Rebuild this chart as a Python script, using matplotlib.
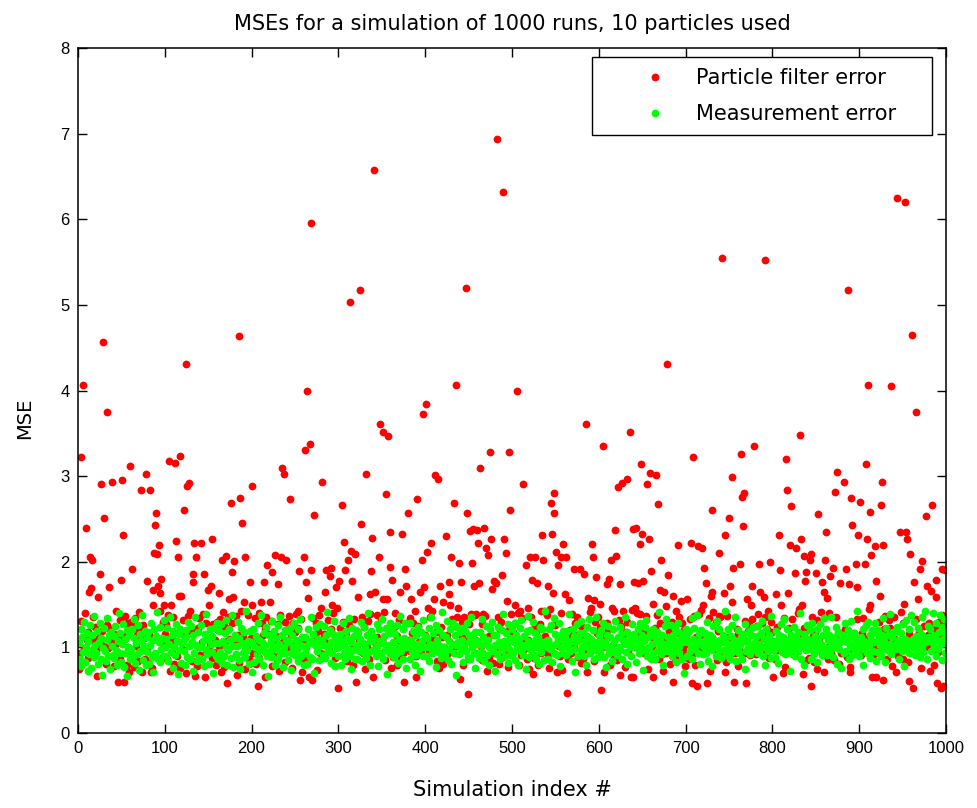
import numpy as np
import matplotlib
matplotlib.use("Agg")
import matplotlib.pyplot as plt

plt.rcParams["font.family"] = ["DejaVu Sans"]

# particle filter MSE, band values for runs 1..1000
pf_band = [
    1.12,0.94,1.31,1.05,0.83,1.22,0.98,1.40,0.76,1.09,1.18,0.88,1.27,1.02,0.69,1.15,1.36,0.91,1.07,1.24,
    0.97,1.33,0.85,1.11,1.29,0.72,1.04,1.19,0.93,1.38,1.01,0.81,1.26,1.14,0.99,0.67,1.21,1.08,1.35,0.89,
    1.16,0.78,1.03,1.42,0.95,1.25,1.10,0.86,1.32,0.74,1.20,1.06,0.92,1.37,1.13,0.80,1.28,1.00,0.71,1.17,
    1.30,1.08,0.90,1.23,0.77,1.34,1.02,1.15,0.84,1.41,0.96,1.19,1.05,0.68,1.26,1.11,0.87,1.39,0.99,1.21,
    0.82,1.14,1.36,0.93,1.07,1.28,0.75,1.18,1.01,1.33,0.88,1.24,0.97,1.12,1.43,0.79,1.06,1.30,0.94,1.16,
    1.04,1.27,0.86,1.38,1.13,0.73,1.22,0.95,1.09,1.35,0.81,1.17,1.29,0.90,1.03,1.40,0.76,1.20,1.10,0.98,
    1.32,0.89,1.15,1.01,0.70,1.25,1.37,0.92,1.08,1.19,0.84,1.31,1.05,0.96,1.42,1.12,0.78,1.23,1.00,1.34,
    0.91,1.18,1.06,1.39,0.83,1.14,0.97,1.28,1.11,0.74,1.21,1.03,1.36,0.88,1.16,1.27,0.95,1.09,0.80,1.30,
    1.20,1.02,0.87,1.33,1.13,0.99,1.41,0.77,1.24,1.07,0.93,1.18,1.35,0.85,1.10,0.72,1.29,1.04,1.22,0.94,
    1.08,1.37,0.96,1.15,0.82,1.26,1.01,1.43,0.89,1.12,1.32,0.75,1.19,1.05,0.98,1.38,0.86,1.23,1.11,0.79,
    1.25,0.93,1.10,1.34,0.81,1.02,1.19,0.88,1.40,1.07,0.70,1.28,1.14,0.97,1.22,0.84,1.36,1.01,1.16,0.90,
    1.03,1.31,0.78,1.20,1.09,0.95,1.42,1.13,0.86,1.27,1.00,0.73,1.17,1.35,0.92,1.06,1.24,0.83,1.30,1.11,
    0.99,1.21,1.37,0.87,1.15,1.04,0.76,1.29,0.94,1.18,1.39,1.08,0.82,1.23,1.12,0.96,1.33,0.71,1.05,1.26,
    1.17,0.85,1.06,1.30,0.97,1.41,1.11,0.79,1.22,1.02,1.34,0.90,1.14,1.28,0.74,1.09,1.19,1.38,0.93,1.01,
    1.36,1.10,0.92,1.16,1.25,0.83,1.05,1.32,1.00,0.77,1.21,1.13,0.95,1.40,1.07,0.88,1.27,1.03,1.18,0.80,
    0.95,1.23,1.12,0.72,1.30,1.06,0.91,1.37,1.15,0.84,1.02,1.26,1.42,0.98,1.11,1.20,0.79,1.33,0.89,1.08,
    1.14,0.98,1.29,1.07,0.86,1.19,1.35,0.93,1.04,1.24,0.75,1.16,1.01,1.31,0.87,1.39,1.10,0.96,1.22,1.05,
    1.27,0.82,1.03,1.38,1.12,0.94,1.20,0.78,1.33,1.09,1.15,0.99,1.41,0.85,1.26,1.05,0.92,1.18,1.36,0.73,
    1.01,1.19,0.89,1.24,1.40,1.06,0.80,1.13,0.97,1.32,1.08,0.87,1.22,1.04,0.93,1.35,1.17,0.76,1.28,1.11,
    1.09,1.34,0.96,0.83,1.17,1.28,1.02,1.43,0.90,1.14,0.79,1.25,1.06,1.37,0.95,1.20,1.00,1.30,0.86,1.15,
    0.88,1.13,1.26,1.05,0.97,1.35,0.74,1.21,1.10,0.92,1.31,1.03,1.18,0.84,1.40,1.08,0.99,1.24,1.12,0.81,
    1.22,1.00,0.87,1.39,1.15,0.93,1.06,1.29,0.78,1.17,1.33,0.95,1.11,1.25,0.89,1.02,1.36,0.72,1.19,1.07,
    1.04,1.30,1.12,0.80,1.23,1.08,0.94,1.41,1.01,0.86,1.27,1.16,0.98,1.34,0.76,1.21,1.09,1.38,0.91,1.14,
    1.33,0.90,1.18,1.02,1.27,0.85,1.11,0.97,1.37,1.05,0.73,1.24,1.13,0.88,1.20,1.42,1.00,0.82,1.29,0.96,
    0.93,1.16,1.05,1.35,0.81,1.22,1.30,1.01,0.89,1.14,1.39,0.96,1.07,1.26,1.19,0.77,1.10,1.32,0.99,1.25,
    1.18,1.07,0.84,1.28,1.12,0.95,1.40,0.79,1.23,1.03,0.91,1.34,1.15,0.98,1.06,1.31,0.87,1.20,1.09,0.75,
    1.06,1.36,0.99,1.14,0.88,1.25,1.03,1.19,1.32,0.80,1.10,1.27,0.94,1.43,1.01,0.85,1.22,1.13,0.97,1.38,
    1.29,0.92,1.21,0.78,1.09,1.37,1.15,0.96,1.05,1.26,0.83,1.18,1.33,1.02,0.90,1.12,1.40,0.74,1.24,1.08,
    0.97,1.23,1.11,1.31,0.86,1.04,1.20,0.93,1.39,1.16,1.01,0.76,1.28,1.07,1.35,0.89,1.14,1.00,1.25,0.82,
    1.15,0.87,1.34,1.02,1.19,0.95,0.71,1.27,1.08,1.41,0.92,1.13,1.22,0.84,1.05,1.30,0.98,1.17,1.36,1.03,
    1.24,1.06,0.91,1.17,1.38,0.82,1.12,1.00,1.29,0.94,1.21,1.35,0.79,1.09,1.26,1.03,0.88,1.42,1.14,0.96,
    0.85,1.20,1.32,0.99,1.07,1.25,0.90,1.36,1.11,0.77,1.18,1.04,1.30,0.95,1.15,1.39,1.01,0.83,1.22,1.10,
    1.11,0.96,1.27,1.40,0.87,1.13,1.02,1.22,0.80,1.33,1.06,0.93,1.19,1.37,0.98,1.24,0.75,1.16,1.05,1.31,
    1.02,1.34,0.89,1.10,1.23,0.97,1.38,1.14,0.86,1.05,1.29,1.18,0.92,0.72,1.21,1.08,1.32,0.94,1.12,1.26,
    1.19,0.81,1.15,1.30,0.99,1.08,1.26,0.88,1.42,1.03,0.95,1.17,1.35,1.09,0.84,1.28,1.00,1.20,0.78,1.13,
    0.94,1.27,1.04,0.86,1.33,1.16,0.92,1.21,1.07,1.37,0.80,1.12,1.01,1.25,1.39,0.97,1.14,0.89,1.31,1.06,
    1.28,1.05,1.20,0.95,0.76,1.14,1.34,1.02,1.23,0.90,1.17,1.41,0.98,1.07,1.30,0.85,1.19,1.11,0.93,1.36,
    1.07,1.32,0.91,1.18,1.26,1.00,0.83,1.37,1.12,0.96,1.24,1.05,0.87,1.29,1.15,1.40,0.94,1.03,1.21,0.78,
    1.16,0.98,1.36,1.06,0.89,1.22,1.11,0.94,1.31,1.02,0.74,1.19,1.27,0.91,1.08,1.14,1.33,0.97,1.25,1.04,
    0.92,1.25,1.08,1.39,1.13,0.84,1.00,1.28,1.17,0.79,1.35,1.06,0.95,1.22,1.42,0.88,1.10,1.30,1.01,1.18,
    1.31,1.01,0.86,1.15,1.24,1.09,0.97,1.38,0.82,1.20,1.12,0.93,1.34,1.04,0.77,1.27,1.16,0.99,1.23,0.90,
    1.05,1.21,1.33,0.92,1.10,0.80,1.26,1.03,1.40,1.14,0.96,1.19,0.87,1.30,1.07,1.23,0.94,1.37,1.12,0.85,
    1.20,0.88,1.07,1.29,0.95,1.36,1.13,0.83,1.18,1.01,1.32,0.75,1.24,1.10,0.98,1.41,1.05,0.91,1.16,1.27,
    0.99,1.14,1.25,0.87,1.40,1.03,1.19,0.93,1.08,1.30,0.85,1.22,1.35,1.00,0.79,1.12,1.28,1.06,0.94,1.17,
    1.13,1.35,0.94,1.22,1.06,0.89,1.31,1.15,0.77,1.26,1.09,1.38,0.96,1.17,1.03,0.84,1.21,1.33,1.02,1.10,
    1.26,0.91,1.17,1.03,1.34,1.11,0.85,1.20,1.39,0.97,1.06,1.24,0.81,1.14,1.29,1.00,0.92,1.18,1.43,0.88,
    0.96,1.18,1.30,0.82,1.12,1.27,1.04,0.93,1.21,1.37,1.08,0.86,1.15,1.32,0.99,1.23,1.07,0.78,1.19,1.35,
    1.10,1.24,0.97,1.36,0.90,1.05,1.19,1.41,1.02,0.87,1.28,1.13,0.95,1.22,1.38,0.83,1.16,1.01,1.30,1.07,
    1.23,0.84,1.14,1.00,1.27,1.33,0.92,1.09,1.18,1.04,0.76,1.35,1.12,0.98,1.25,1.07,1.40,0.89,1.15,1.29,
    1.01,1.17,1.28,0.93,1.08,0.80,1.22,1.34,1.05,1.16,0.95,1.30,1.11,0.86,1.20,1.38,0.97,1.26,1.03,1.13,
]

# runs where the particle filter error leaves the band (index, value)
pf_out_idx = [
    0, 3, 5, 8, 12, 13, 14, 15, 21, 22, 24, 25, 28, 29, 33, 35, 38, 45, 49, 50,
    51, 52, 59, 61, 72, 73, 77, 79, 82, 83, 84, 85, 86, 87, 88, 89, 90, 91, 92, 93,
    95, 98, 104, 106, 111, 112, 114, 115, 117, 118, 121, 123, 125, 127, 128, 131, 132, 133, 134, 135,
    141, 144, 145, 149, 150, 152, 154, 162, 164, 165, 170, 171, 173, 175, 177, 178, 179, 182, 185, 186,
    188, 190, 192, 197, 199, 200, 206, 210, 213, 215, 217, 220, 223, 226, 230, 232, 233, 234, 236, 239,
    243, 252, 254, 255, 259, 260, 262, 263, 264, 265, 266, 267, 268, 269, 271, 279, 280, 284, 285, 289,
    291, 292, 296, 298, 299, 300, 303, 305, 307, 310, 312, 314, 315, 318, 319, 322, 324, 325, 331, 336,
    337, 338, 339, 340, 341, 346, 347, 350, 351, 354, 355, 356, 358, 359, 360, 361, 370, 372, 375, 376,
    377, 379, 383, 389, 390, 393, 395, 397, 398, 400, 401, 402, 406, 407, 409, 410, 414, 415, 416, 420,
    423, 426, 427, 428, 429, 432, 434, 437, 438, 439, 440, 444, 446, 447, 448, 451, 452, 453, 454, 455,
    458, 459, 460, 461, 462, 466, 467, 469, 471, 474, 475, 476, 478, 481, 482, 487, 489, 490, 492, 493,
    496, 497, 498, 502, 505, 508, 512, 515, 517, 520, 522, 523, 526, 528, 534, 535, 536, 540, 542, 543,
    544, 545, 546, 547, 548, 550, 551, 552, 555, 558, 560, 561, 563, 565, 571, 577, 582, 584, 587, 590,
    591, 592, 594, 596, 601, 602, 604, 605, 609, 611, 613, 614, 618, 619, 621, 623, 624, 626, 627, 631,
    635, 636, 637, 638, 639, 640, 641, 642, 644, 646, 647, 648, 649, 650, 655, 657, 658, 659, 661, 662,
    665, 667, 669, 671, 674, 676, 678, 679, 684, 685, 690, 694, 701, 705, 707, 708, 712, 713, 717, 718,
    719, 720, 722, 724, 727, 728, 729, 730, 737, 738, 741, 743, 744, 745, 749, 750, 752, 753, 754, 755,
    762, 763, 764, 765, 766, 769, 770, 774, 775, 778, 784, 785, 789, 791, 796, 800, 803, 807, 808, 809,
    811, 815, 816, 817, 819, 821, 825, 826, 830, 831, 832, 833, 834, 836, 837, 838, 842, 843, 844, 849,
    852, 856, 858, 859, 860, 861, 862, 866, 869, 871, 874, 876, 877, 881, 884, 886, 887, 889, 890, 891,
    895, 896, 898, 900, 906, 907, 908, 909, 910, 911, 912, 913, 914, 917, 918, 919, 923, 924, 925, 926,
    927, 936, 941, 943, 946, 951, 952, 953, 954, 957, 958, 960, 961, 962, 964, 967, 969, 971, 976, 977,
    981, 982, 983, 987, 988, 989, 993, 994, 996, 998,
]
pf_out_val = [
    0.75, 3.22, 4.07, 2.40, 1.65, 2.06, 1.69, 2.02, 0.67, 1.59, 1.86, 2.91, 4.57, 2.51, 3.75, 1.70, 2.93, 0.60, 1.79, 2.95,
    2.31, 0.60, 3.12, 1.92, 2.84, 0.71, 3.03, 1.78, 2.84, 0.71, 0.76, 1.67, 1.49, 2.10, 2.43, 2.57, 2.09, 1.72, 2.19, 1.63,
    1.80, 1.49, 3.18, 1.50, 3.15, 2.24, 2.05, 1.60, 3.24, 1.60, 2.60, 4.31, 2.88, 2.92, 1.42, 1.86, 1.76, 2.22, 0.67, 2.05,
    2.22, 1.86, 0.65, 1.67, 1.49, 1.72, 2.27, 1.63, 0.71, 2.02, 2.07, 0.58, 1.57, 2.69, 1.88, 1.59, 2.01, 0.68, 4.64, 2.75,
    2.45, 1.53, 2.05, 1.76, 2.89, 1.50, 0.55, 1.53, 1.76, 0.65, 1.96, 1.53, 1.88, 2.08, 1.74, 1.38, 2.05, 3.10, 3.02, 2.02,
    2.73, 1.43, 1.89, 0.62, 2.05, 3.31, 1.76, 3.99, 1.58, 0.65, 3.38, 5.96, 1.90, 0.62, 2.55, 1.46, 2.93, 1.65, 1.90, 1.83,
    1.93, 1.50, 1.70, 1.46, 0.53, 1.77, 2.66, 2.23, 1.90, 2.02, 5.03, 2.12, 1.77, 2.09, 0.60, 1.59, 5.17, 2.44, 3.02, 1.62,
    1.89, 2.28, 0.65, 6.57, 1.65, 2.06, 3.61, 1.57, 3.52, 2.79, 1.57, 3.47, 2.35, 1.94, 0.76, 1.79, 1.65, 2.33, 0.60, 1.91,
    1.72, 2.57, 1.57, 0.65, 2.73, 1.65, 2.02, 3.73, 1.71, 3.84, 2.11, 1.46, 2.22, 1.42, 1.57, 3.01, 2.97, 0.76, 1.72, 1.53,
    2.30, 1.76, 1.62, 1.49, 2.05, 2.69, 4.07, 1.46, 1.98, 0.63, 1.76, 1.35, 5.20, 2.57, 0.46, 2.36, 1.39, 1.98, 2.38, 1.72,
    1.39, 2.37, 2.22, 1.75, 3.09, 1.39, 2.40, 2.16, 2.08, 3.28, 2.26, 1.68, 1.78, 1.75, 6.94, 1.85, 6.32, 2.26, 2.10, 1.54,
    3.28, 2.60, 1.39, 1.49, 3.99, 1.43, 2.91, 1.96, 1.46, 2.05, 1.79, 0.69, 2.05, 1.75, 2.31, 2.02, 1.42, 1.72, 0.76, 1.45,
    2.69, 2.33, 1.64, 2.57, 2.80, 2.11, 0.71, 1.96, 2.06, 2.21, 1.62, 2.05, 0.47, 1.55, 1.91, 1.92, 1.86, 3.61, 1.58, 1.46,
    2.21, 2.05, 1.55, 1.82, 1.51, 0.50, 3.35, 0.71, 1.74, 1.80, 2.02, 1.46, 2.37, 2.07, 2.87, 1.74, 0.68, 2.92, 1.42, 2.97,
    3.52, 0.66, 1.44, 0.65, 2.38, 1.76, 1.46, 2.39, 1.75, 2.21, 1.39, 3.14, 2.33, 1.78, 2.91, 2.26, 3.04, 1.89, 1.51, 0.65,
    3.01, 2.67, 1.67, 2.02, 1.65, 1.48, 4.31, 1.85, 1.60, 0.60, 2.19, 1.54, 1.57, 2.22, 0.58, 3.22, 0.55, 2.18, 1.44, 2.16,
    1.49, 1.93, 1.75, 0.58, 0.72, 1.60, 1.65, 2.61, 1.37, 2.10, 5.55, 1.63, 0.71, 2.31, 2.51, 1.72, 2.99, 1.53, 1.93, 0.60,
    1.97, 3.26, 2.76, 2.42, 2.80, 0.58, 1.57, 1.50, 1.72, 3.35, 1.97, 1.65, 1.59, 5.52, 2.00, 0.65, 1.62, 2.31, 1.90, 1.50,
    0.70, 3.20, 2.84, 1.63, 2.19, 2.65, 1.87, 2.16, 1.45, 3.48, 2.26, 1.49, 0.69, 2.07, 1.77, 1.88, 2.02, 2.09, 0.55, 1.87,
    2.56, 1.76, 0.71, 1.65, 2.02, 2.35, 1.58, 1.83, 1.93, 2.81, 3.05, 0.81, 1.75, 2.93, 1.92, 5.17, 1.74, 0.71, 2.75, 2.43,
    1.97, 1.71, 2.31, 2.70, 1.97, 3.14, 2.27, 4.07, 1.45, 2.58, 1.50, 2.08, 0.65, 2.18, 1.77, 0.66, 1.60, 2.66, 2.93, 2.19,
    0.62, 4.05, 0.71, 6.25, 2.35, 1.51, 6.20, 2.35, 2.26, 0.61, 2.09, 4.65, 0.53, 1.76, 3.75, 1.57, 1.92, 2.01, 2.53, 1.72,
    0.72, 1.66, 2.66, 1.79, 1.59, 0.58, 0.53, 1.92, 0.55, 1.90,
]

# measurement MSE for runs 1..1000
meas = [
    1.05,0.86,1.21,0.78,1.12,0.95,1.30,0.83,1.01,1.17,0.72,1.08,0.92,1.26,0.76,1.14,0.98,1.37,0.89,1.03,
    0.93,1.19,0.81,1.06,1.28,0.87,1.11,0.68,0.99,1.23,0.96,0.84,1.34,1.09,0.90,1.15,0.75,1.18,1.02,0.91,
    1.13,0.88,1.25,0.97,0.79,1.07,1.40,0.94,1.17,0.83,1.04,1.27,0.77,1.10,0.93,1.20,0.67,1.00,1.14,0.86,
    0.98,1.22,0.90,1.11,1.33,0.82,1.05,0.92,1.26,0.74,1.16,0.96,1.08,1.38,0.85,1.02,1.19,0.80,0.95,1.12,
    1.18,0.81,1.03,1.29,0.89,1.09,0.71,1.22,0.94,1.13,1.41,0.87,1.06,0.83,1.24,0.98,1.11,0.90,1.32,1.00,
    0.90,1.10,1.23,0.84,1.04,1.35,0.95,1.15,0.76,1.19,1.00,0.91,1.27,1.07,0.69,1.16,0.97,1.21,0.82,1.05,
    1.08,0.96,0.79,1.20,1.12,0.89,1.30,1.02,0.86,1.25,1.06,0.73,1.14,0.94,1.36,1.03,0.84,1.18,1.00,0.88,
    1.01,1.26,0.87,1.07,0.78,1.16,0.98,1.39,0.92,1.10,0.81,1.21,1.04,0.95,1.13,0.70,1.23,1.05,0.90,1.28,
    0.87,1.05,1.19,0.95,1.27,0.82,1.08,0.90,1.17,1.00,1.32,0.80,0.97,1.22,1.09,0.88,1.02,1.38,0.77,1.11,
    1.14,0.92,1.02,1.30,0.85,1.11,0.75,1.23,1.05,0.94,1.18,1.00,0.89,1.42,0.97,1.08,0.81,1.19,1.06,0.71,
    1.05,1.22,0.83,1.00,1.13,0.92,1.28,0.87,1.09,0.98,1.38,1.06,0.79,1.17,0.95,1.03,1.24,0.90,0.67,1.14,
    0.96,1.08,1.31,0.89,1.02,1.19,0.80,1.11,0.97,1.26,0.86,1.04,1.35,0.93,1.15,0.77,1.00,1.20,0.94,1.09,
    1.19,0.85,1.06,1.23,0.94,0.74,1.14,1.00,1.29,0.91,1.09,0.97,1.21,0.84,1.04,1.33,0.90,1.12,1.02,0.79,
    0.93,1.12,0.99,0.81,1.22,1.05,0.89,1.36,1.08,0.86,1.16,0.70,1.03,1.24,0.96,1.10,1.00,0.85,1.27,1.06,
    1.09,0.91,1.25,1.03,0.88,1.14,1.41,0.96,1.02,1.20,0.82,1.06,0.93,1.16,1.31,0.78,1.11,0.99,1.04,0.90,
    1.02,1.16,0.80,1.08,1.28,0.94,1.03,0.86,1.19,1.11,0.98,1.34,0.90,1.06,0.75,1.23,0.97,1.13,0.87,1.20,
    0.86,1.03,1.18,0.96,1.10,1.30,0.84,1.05,0.93,1.24,1.00,0.88,1.15,1.40,0.95,1.07,0.80,1.19,1.08,0.97,
    1.12,0.98,0.90,1.27,1.02,0.78,1.21,1.08,0.94,1.33,1.05,0.87,1.13,0.97,1.23,0.69,1.03,1.17,0.92,1.29,
    0.97,1.20,1.06,0.89,1.16,1.00,0.93,1.26,0.82,1.10,1.37,0.96,1.03,1.22,0.86,1.11,1.28,0.76,1.01,1.08,
    1.06,0.87,1.29,1.09,0.95,1.19,1.02,0.79,1.14,0.91,1.04,1.24,0.98,0.73,1.18,1.08,0.90,1.32,1.00,1.13,
    0.90,1.11,1.00,1.23,0.84,1.04,1.35,0.93,1.17,1.03,0.97,0.77,1.26,1.09,0.95,1.20,1.02,0.88,1.41,0.96,
    1.15,1.01,0.91,1.12,1.31,0.85,1.07,0.98,1.21,0.81,1.04,1.29,0.94,1.14,0.68,1.03,1.24,1.06,0.92,1.18,
    0.98,1.23,1.09,0.83,1.01,1.19,0.96,1.28,0.89,1.06,1.15,0.87,1.36,1.00,1.11,0.93,0.76,1.18,1.04,0.94,
    1.08,0.88,1.18,1.03,0.95,1.33,1.12,0.84,1.04,1.25,0.91,1.09,1.00,0.80,1.21,1.01,1.30,0.96,1.14,0.72,
    1.03,1.14,0.92,1.24,1.06,0.86,1.00,1.20,0.97,1.39,1.07,0.90,1.17,1.04,0.82,1.27,0.98,1.11,0.91,1.22,
    0.94,1.06,1.28,0.85,1.15,1.01,0.79,1.10,1.23,0.96,1.32,1.03,0.91,1.13,1.00,0.75,1.19,1.08,1.37,0.89,
    1.20,0.97,1.04,1.30,0.91,1.09,1.17,0.87,1.00,1.12,0.81,1.24,1.06,0.95,1.21,1.03,0.85,1.42,1.07,1.00,
    0.87,1.09,1.21,0.98,1.26,0.83,1.03,1.34,0.94,1.16,1.04,0.91,1.10,1.29,0.78,1.14,1.00,0.93,1.19,1.06,
    1.12,0.91,1.00,1.19,1.04,1.39,0.96,1.07,0.84,1.22,0.98,1.13,0.71,1.06,1.27,0.90,1.09,1.17,0.97,1.31,
    1.00,1.17,0.90,1.07,0.80,1.13,1.24,1.01,1.33,0.93,1.10,1.03,1.20,0.86,1.06,0.97,1.36,1.04,0.89,1.15,
    1.09,0.96,1.20,1.03,1.28,0.89,1.06,0.77,1.15,1.00,1.25,0.93,1.12,1.01,0.84,1.22,0.95,1.07,1.31,0.98,
    0.91,1.12,1.01,1.24,0.97,1.16,0.86,1.09,1.04,1.35,0.95,1.18,0.81,1.06,1.13,1.00,0.90,1.27,1.03,1.10,
    1.16,1.00,0.83,1.10,1.21,0.93,1.29,1.03,0.96,1.14,0.74,1.07,1.24,0.98,1.32,0.90,1.12,1.01,1.19,0.86,
    1.04,1.22,0.94,1.13,0.87,1.06,1.18,0.97,1.41,1.01,1.09,0.92,1.15,0.79,1.04,1.25,0.96,1.33,1.00,1.12,
    0.96,1.09,1.26,0.90,1.03,1.15,0.98,1.21,0.83,1.07,1.29,1.00,0.93,1.17,1.10,0.87,1.06,0.70,1.13,1.22,
    1.13,0.90,1.06,1.19,0.96,1.01,1.34,0.86,1.10,1.23,0.98,1.04,1.38,0.94,1.16,1.07,0.81,1.20,1.03,0.92,
    1.01,1.17,0.93,1.09,1.30,0.84,1.04,1.15,0.97,0.78,1.12,1.25,1.00,1.07,0.90,1.31,1.03,0.96,1.22,1.09,
    0.88,1.06,1.15,0.97,1.10,1.42,0.92,1.01,1.22,1.04,0.87,1.13,0.95,1.26,1.00,1.09,1.35,0.84,1.06,0.98,
    1.20,0.94,1.03,1.12,0.86,1.16,1.07,0.75,1.27,0.96,1.09,1.00,1.19,0.92,1.14,1.03,0.97,1.24,0.82,1.06,
    1.00,1.13,1.25,0.93,1.04,0.98,1.17,1.31,0.90,1.10,1.01,0.80,1.21,1.07,0.96,1.15,1.06,0.88,1.37,1.03,
    1.07,0.97,0.89,1.19,1.01,1.09,0.82,1.15,1.06,1.27,0.95,1.12,1.00,1.33,0.92,1.04,1.22,0.98,1.10,0.72,
    0.93,1.15,1.06,1.00,1.24,0.90,1.12,1.03,0.96,1.18,1.07,1.40,0.86,1.09,1.01,0.79,1.16,1.04,0.97,1.26,
    1.10,1.03,1.20,0.87,0.98,1.29,1.06,0.94,1.13,1.00,0.83,1.21,1.09,0.97,1.27,1.04,0.91,1.15,1.01,1.34,
    0.97,1.22,0.91,1.09,1.15,1.01,0.96,1.36,1.04,0.89,1.12,1.00,1.24,0.81,1.07,1.18,0.98,1.06,0.76,1.13,
    1.15,0.93,1.09,1.28,0.96,1.06,1.20,0.86,1.01,1.12,1.31,0.91,1.04,1.17,0.97,1.10,1.42,1.00,1.07,0.90,
    1.04,1.12,0.98,0.80,1.21,1.07,1.00,1.26,0.93,1.30,1.03,1.14,0.88,1.09,1.20,0.96,1.06,1.28,0.84,1.17,
    0.95,1.20,1.10,1.03,0.90,1.15,1.34,0.98,1.07,0.83,1.23,1.01,1.14,0.96,1.04,1.39,0.92,1.12,1.18,1.00,
    1.18,0.98,1.04,1.24,1.09,0.87,1.01,1.17,0.96,1.06,1.27,0.78,1.10,1.32,1.00,1.07,0.93,1.21,1.03,1.38,
    1.00,1.10,1.30,0.91,1.13,1.04,0.97,1.23,1.07,0.89,1.16,1.35,1.01,0.95,1.12,1.42,1.06,0.86,1.25,1.09,
    1.12,1.21,0.96,1.06,1.40,1.01,1.15,0.90,1.28,1.09,0.98,1.18,1.38,1.04,0.85,1.24,1.10,1.33,0.94,1.17,
]

pf = np.array(pf_band)
pf[pf_out_idx] = pf_out_val
runs = np.arange(1, len(pf) + 1)

fig = plt.figure(figsize=(9.77, 8.08), dpi=100)
ax = fig.add_axes([0.0798, 0.0928, 0.8884, 0.8478])

ax.plot(runs, pf, 'o', color='#ff0000', ms=5.6, mec='none', label='Particle filter error')
ax.plot(runs, meas, 'o', color='#00ff00', ms=5.6, mec='none', label='Measurement error')

ax.set_xlim(0, 1000)
ax.set_ylim(0, 8)
ax.set_xticks(np.arange(0, 1001, 100))
ax.set_yticks(np.arange(0, 9, 1))
ax.tick_params(direction='in', top=True, right=True, length=6.5, width=1, pad=6)
for lab in ax.get_xticklabels() + ax.get_yticklabels():
    lab.set_fontfamily('Liberation Sans')
    lab.set_fontsize(12)
for s in ax.spines.values():
    s.set_linewidth(1.1)

ax.set_title('MSEs for a simulation of 1000 runs, 10 particles used', fontsize=15, pad=13)
ax.set_xlabel('Simulation index #', fontsize=15, labelpad=17)
ax.set_ylabel('MSE', fontsize=14)
ax.yaxis.set_label_coords(-0.051, 0.46)

leg = ax.legend(loc='upper left', bbox_to_anchor=(0.592, 0.870, 0.392, 0.117),
                mode='expand', borderaxespad=0, fontsize=15, fancybox=False,
                framealpha=1, edgecolor='black', handlelength=5.0,
                handletextpad=-0.55, borderpad=0.55, labelspacing=0.75)
leg.get_frame().set_linewidth(1.0)

fig.savefig('out.png', dpi=100)
